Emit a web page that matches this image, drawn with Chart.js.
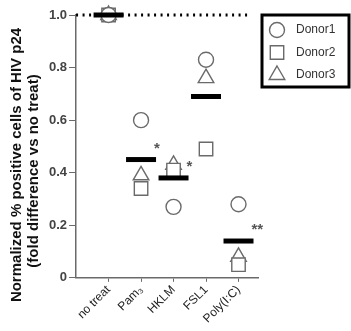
<!DOCTYPE html>
<html>
<head>
<meta charset="utf-8">
<script src="https://cdn.jsdelivr.net/npm/chart.js@4.4.0/dist/chart.umd.min.js"></script>
<style>
  html, body { margin: 0; padding: 0; background: #fff; }
  canvas { display: block; }
</style>
</head>
<body>
<canvas id="chart" width="351" height="331"></canvas>
<script>
const categories = ["no treat", "Pam\u2083", "HKLM", "FSL1", "Poly(I:C)"];
const donor1 = [1.0, 0.60, 0.27, 0.83, 0.28];
const donor2 = [1.0, 0.34, 0.41, 0.49, 0.05];
const donor3 = [1.0, 0.39, 0.43, 0.76, 0.08];
const means = [1.0, 0.45, 0.38, 0.69, 0.14];
const signif = ["", "*", "*", "", "**"];
const yTicks = [0, 0.2, 0.4, 0.6, 0.8, 1.0];
const yTitle = ["Normalized % positive cells of HIV p24", "(fold difference vs no treat)"];

const toPts = arr => arr.map((v, i) => ({ x: i, y: v }));
const gray = "#6a6a6a";
const font = "'Liberation Sans', Arial, sans-serif";

// y title, asterisks, legend box
const extras = {
  id: "extras",
  afterDatasetsDraw(chart) {
    const { ctx, scales: { x, y } } = chart;
    ctx.save();
    ctx.fillStyle = "#555";
    ctx.font = "bold 15px " + font;
    ctx.textAlign = "left";
    ctx.textBaseline = "middle";
    signif.forEach((s, i) => {
      if (!s) return;
      ctx.fillText(s, x.getPixelForValue(i) + 13, y.getPixelForValue(means[i]) - 11);
    });

    // rotated y title, sits a bit below the plot centre like the original
    ctx.fillStyle = "#111";
    ctx.font = "bold 15px " + font;
    ctx.textAlign = "center";
    [[17, 165], [34, 171]].forEach(([tx, ty], k) => {
      ctx.save();
      ctx.translate(tx, ty);
      ctx.rotate(-Math.PI / 2);
      ctx.fillText(yTitle[k], 0, 0);
      ctx.restore();
    });

    // legend
    const lx = 262, ly = 15, lw = 87, lh = 72;
    ctx.strokeStyle = "#000";
    ctx.lineWidth = 3;
    ctx.strokeRect(lx, ly, lw, lh);
    const names = ["Donor1", "Donor2", "Donor3"];
    const styles = ["circle", "rect", "triangle"];
    const radii = [7.5, 9.5, 9];
    names.forEach((n, k) => {
      const cy = ly + 15 + k * 22.5;
      ctx.fillStyle = "#fff";
      ctx.strokeStyle = gray;
      ctx.lineWidth = 1.4;
      Chart.helpers.drawPoint(ctx, {
        pointStyle: styles[k], radius: radii[k], borderWidth: 1.4
      }, lx + 15, cy);
    });
    ctx.fillStyle = "#333";
    ctx.font = "12px " + font;
    ctx.textAlign = "left";
    names.forEach((n, k) => ctx.fillText(n, lx + 34, ly + 15 + k * 22.5));
    ctx.restore();
  }
};

const markerStyle = {
  backgroundColor: "#fff",
  borderColor: gray,
  borderWidth: 1.4,
  clip: false
};

new Chart(document.getElementById("chart"), {
  type: "scatter",
  data: {
    datasets: [
      {
        label: "mean",
        data: toPts(means),
        pointStyle: "line",
        pointRadius: 15,
        borderWidth: 5,
        borderColor: "#000",
        order: 0,
        clip: false
      },
      { label: "Donor1", data: toPts(donor1), pointStyle: "circle", pointRadius: 7.5, order: 1, ...markerStyle },
      { label: "Donor2", data: toPts(donor2), pointStyle: "rect", pointRadius: 9.5, order: 2, ...markerStyle },
      { label: "Donor3", data: toPts(donor3), pointStyle: "triangle", pointRadius: 9, order: 3, ...markerStyle },
      {
        type: "line",
        label: "ref",
        data: [{ x: -1, y: 1 }, { x: 4.37, y: 1 }],
        borderColor: "#000",
        borderWidth: 3,
        borderDash: [2, 4.5],
        borderCapStyle: "butt",
        pointRadius: 0,
        order: 5,
        clip: false
      }
    ]
  },
  options: {
    responsive: false,
    animation: false,
    events: [],
    layout: { autoPadding: false, padding: { left: 47, right: 93, top: 15, bottom: 4 } },
    plugins: { legend: { display: false }, tooltip: { enabled: false } },
    scales: {
      x: {
        type: "linear",
        min: -1,
        max: 4.6,
        afterBuildTicks: s => { s.ticks = categories.map((c, i) => ({ value: i })); },
        grid: { display: true, drawOnChartArea: false, drawTicks: true, tickLength: 4, color: gray },
        border: { display: true, color: gray, width: 1.5 },
        ticks: {
          callback: v => categories[v],
          maxRotation: 45,
          minRotation: 45,
          color: "#222",
          font: { family: font, size: 12 },
          padding: 1
        }
      },
      y: {
        min: 0,
        max: 1.0,
        afterBuildTicks: s => { s.ticks = yTicks.map(v => ({ value: v })); },
        grid: { display: true, drawOnChartArea: false, drawTicks: true, tickLength: 7, color: gray },
        border: { display: true, color: gray, width: 1.5 },
        ticks: {
          callback: v => v === 0 ? "0" : v.toFixed(1),
          color: "#444",
          font: { family: font, size: 13, weight: "bold" },
          padding: 2
        }
      }
    }
  },
  plugins: [extras]
});
</script>
</body>
</html>
